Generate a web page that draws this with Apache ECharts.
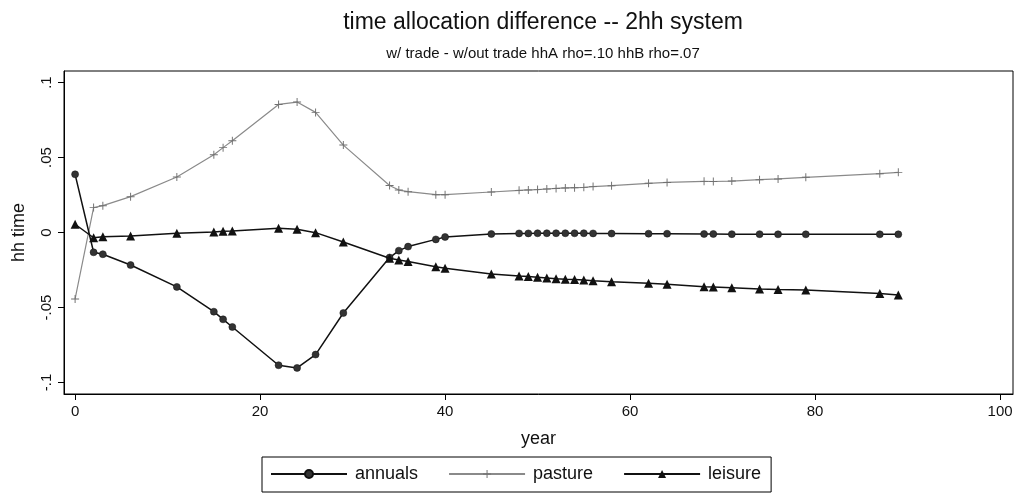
<!DOCTYPE html>
<html>
<head>
<meta charset="utf-8">
<script src="https://cdn.jsdelivr.net/npm/echarts@6/dist/echarts.min.js"></script>
<style>html,body{margin:0;padding:0;background:#fff;}#c{width:1021px;height:495px;}</style>
</head>
<body>
<div id="c"></div>
<script>
const years = [0,2,3,6,11,15,16,17,22,24,26,29,34,35,36,39,40,45,48,49,50,51,52,53,54,55,56,58,62,64,68,69,71,74,76,79,87,89];
const annuals = [0.0388,-0.0132,-0.0145,-0.0217,-0.0363,-0.0528,-0.0579,-0.063,-0.0885,-0.0903,-0.0814,-0.0537,-0.0167,-0.0121,-0.0094,-0.0046,-0.003,-0.001,-0.0006,-0.0006,-0.0005,-0.0005,-0.0005,-0.0005,-0.0005,-0.0005,-0.0006,-0.0007,-0.0008,-0.0008,-0.001,-0.001,-0.0011,-0.0011,-0.0012,-0.0012,-0.0012,-0.0012];
const pasture = [-0.0443,0.0166,0.0179,0.0239,0.037,0.0519,0.0566,0.0612,0.0854,0.087,0.0801,0.0583,0.0313,0.0283,0.0272,0.0252,0.0252,0.027,0.0281,0.0284,0.0286,0.029,0.0294,0.0297,0.0299,0.0301,0.0306,0.0312,0.0328,0.0334,0.0341,0.034,0.0343,0.0352,0.0357,0.0368,0.0392,0.0401];
const leisure = [0.0055,-0.0035,-0.0028,-0.0023,-0.0005,0.0003,0.0008,0.001,0.0028,0.0021,-0.0001,-0.0063,-0.0172,-0.0183,-0.0194,-0.0228,-0.0239,-0.0277,-0.029,-0.0294,-0.0299,-0.0303,-0.0308,-0.0312,-0.0314,-0.0317,-0.0321,-0.0328,-0.0339,-0.0345,-0.0361,-0.0363,-0.0368,-0.0377,-0.038,-0.0383,-0.0407,-0.0417];
const xTicks = [0,20,40,60,80,100];
const yTicks = [-0.1,-0.05,0,0.05,0.1];
const yTickLabels = ['-.1','-.05','0','.05','.1'];
const seriesNames = ['annuals','pasture','leisure'];

const font = 'Liberation Sans, Arial, Helvetica, sans-serif';
const pair = (a) => years.map((y,i)=>[y,a[i]]);
const plusPath = 'path://M0,4.4H10V5.6H0Z M4.4,0H5.6V10H4.4Z';

const chart = echarts.init(document.getElementById('c'), null, {renderer:'canvas'});
chart.setOption({
  animation: false,
  backgroundColor: '#fff',
  title: [
    {text: 'time allocation difference -- 2hh system', left: 538, top: 6, textAlign: 'center',
     textStyle: {fontFamily: font, fontSize: 23, fontWeight: 'normal', color: '#111'}},
    {text: 'w/ trade - w/out trade hhA rho=.10 hhB rho=.07', left: 538, top: 41, textAlign: 'center',
     textStyle: {fontFamily: font, fontSize: 15, fontWeight: 'normal', color: '#111'}}
  ],
  grid: {left: 64, right: 8, top: 71, bottom: 101, show: true, borderColor: '#000', borderWidth: 1, containLabel: false},
  xAxis: {
    type: 'value', min: -1.2, max: 101.4,
    name: 'year', nameLocation: 'middle', nameGap: 36,
    nameTextStyle: {fontFamily: font, fontSize: 18, color: '#111'},
    axisLine: {show: true, onZero: false, lineStyle: {color: '#000', width: 1}},
    axisTick: {show: true, length: 6, customValues: xTicks, lineStyle: {color: '#000'}},
    axisLabel: {customValues: xTicks, fontFamily: font, fontSize: 15, color: '#111', margin: 10},
    splitLine: {show: false}
  },
  yAxis: {
    type: 'value', min: -0.1077, max: 0.1077,
    name: 'hh time', nameLocation: 'middle', nameGap: 36, nameRotate: 90,
    nameTextStyle: {fontFamily: font, fontSize: 18, color: '#111'},
    axisLine: {show: true, onZero: false, lineStyle: {color: '#000', width: 1}},
    axisTick: {show: true, length: 6, customValues: yTicks, lineStyle: {color: '#000'}},
    axisLabel: {customValues: yTicks, rotate: 90, fontFamily: font, fontSize: 15, color: '#111', margin: 10,
      formatter: (v) => { const i = yTicks.findIndex(t => Math.abs(t - v) < 1e-9); return i >= 0 ? yTickLabels[i] : ''; }},
    splitLine: {show: false}
  },
  legend: {
    data: seriesNames, left: 262, top: 457, orient: 'horizontal',
    itemWidth: 76, itemHeight: 10, itemGap: 30,
    borderColor: '#000', borderWidth: 1, padding: [8, 10, 9, 8],
    textStyle: {fontFamily: font, fontSize: 18, color: '#111', padding: [0,0,0,3]}
  },
  series: [
    {name: seriesNames[0], type: 'line', data: pair(annuals), symbol: 'circle', symbolSize: 7,
     lineStyle: {color: '#111', width: 1.5}, itemStyle: {color: '#333', borderColor: '#111', borderWidth: 0.5}, z: 3},
    {name: seriesNames[1], type: 'line', data: pair(pasture), symbol: plusPath, symbolSize: 8,
     lineStyle: {color: '#8a8a8a', width: 1.2}, itemStyle: {color: '#707070'}, z: 2},
    {name: seriesNames[2], type: 'line', data: pair(leisure), symbol: 'triangle', symbolSize: 9,
     lineStyle: {color: '#111', width: 1.5}, itemStyle: {color: '#111'}, z: 4}
  ]
});
</script>
</body>
</html>
